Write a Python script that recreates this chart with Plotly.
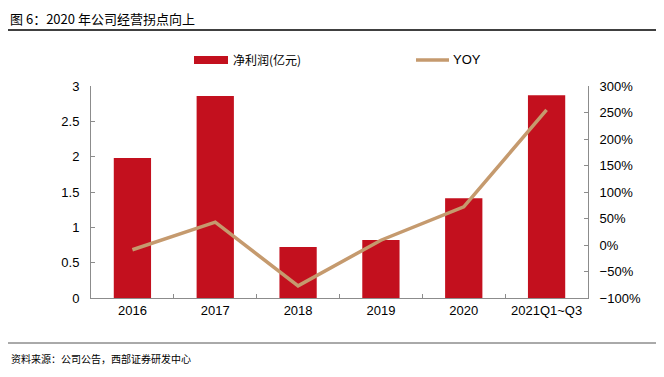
import plotly.graph_objects as go

categories = ["2016", "2017", "2018", "2019", "2020", "2021Q1~Q3"]
net_profit = [1.98, 2.86, 0.72, 0.82, 1.41, 2.87]
yoy = [-9, 43, -77, 9, 72, 255]

# page body has an 8px margin: figure sized to fit the 664x377 window
OFF = 8
W, H = 664 - 2 * OFF, 377 - 2 * OFF
BAR = "#C3101E"
LINE = "#C59A6E"
AX = "#8C8C8C"
CJK = "Noto Sans CJK SC"
LAT = "Liberation Sans, Arial"

fig = go.Figure()
fig.add_trace(go.Bar(x=categories, y=net_profit, marker=dict(color=BAR, line=dict(width=0)),
                     width=0.45, name="净利润(亿元)", showlegend=False))
fig.add_trace(go.Scatter(x=categories, y=yoy, yaxis="y2", mode="lines",
                         line=dict(color=LINE, width=3.5), name="YOY", showlegend=False))

def px(x): return (x - OFF) / W
def py(y): return 1 - (y - OFF) / H

x0, x1 = px(91), px(588)
y0, y1 = py(298), py(86)

fig.update_layout(
    width=W, height=H, margin=dict(l=0, r=0, t=0, b=0, autoexpand=False),
    paper_bgcolor="white", plot_bgcolor="white",
    font=dict(family=LAT, size=13, color="#000000"),
    xaxis=dict(domain=[x0, x1], range=[-0.5, 5.5], type="category",
               showline=True, linecolor=AX, linewidth=1,
               ticks="inside", tickson="boundaries", ticklen=4, tickcolor=AX,
               showgrid=False, tickfont=dict(family=LAT, size=13, color="#000")),
    yaxis=dict(domain=[y0, y1], range=[0, 3], dtick=0.5, showgrid=False,
               showline=True, linecolor=AX, linewidth=1, zeroline=False,
               ticks="inside", ticklen=4, tickcolor=AX,
               tickfont=dict(family=LAT, size=13, color="#000"), ticklabelstandoff=8),
    yaxis2=dict(overlaying="y", side="right", range=[-100, 300], dtick=50,
                ticksuffix="%", showgrid=False, zeroline=False,
                showline=True, linecolor=AX, linewidth=1,
                ticks="inside", ticklen=4, tickcolor=AX,
                tickfont=dict(family=LAT, size=13, color="#000"), ticklabelstandoff=8),
)

shapes = [
    dict(type="line", xref="paper", yref="paper", x0=px(8), x1=px(656), y0=py(30), y1=py(30),
         line=dict(color="#000", width=1.5)),
    dict(type="line", xref="paper", yref="paper", x0=px(8), x1=px(656), y0=py(343), y1=py(343),
         line=dict(color="#555", width=1)),
    dict(type="rect", xref="paper", yref="paper", x0=px(194), x1=px(228), y0=py(64), y1=py(56),
         fillcolor=BAR, line=dict(width=0)),
    dict(type="line", xref="paper", yref="paper", x0=px(416), x1=px(449), y0=py(60), y1=py(60),
         line=dict(color=LINE, width=3.5)),
]
fig.update_layout(shapes=shapes)

fig.add_annotation(text="图 6：2020 年公司经营拐点向上", xref="paper", yref="paper",
                   x=px(9), y=1.0, xanchor="left", yanchor="top", borderpad=0,
                   showarrow=False, font=dict(family=CJK, size=13, color="#000"))

ann = [
    dict(text="净利润(亿元)", x=px(231), y=py(60), font=dict(family=CJK, size=12, color="#000")),
    dict(text="YOY", x=px(451), y=py(60), font=dict(family=LAT, size=13, color="#000")),
    dict(text="资料来源：公司公告，西部证券研发中心", x=px(9), y=py(358), font=dict(family=CJK, size=10, color="#000")),
]
for a in ann:
    fig.add_annotation(xref="paper", yref="paper", xanchor="left", yanchor="middle",
                       showarrow=False, **a)

fig.write_html("out.html")
